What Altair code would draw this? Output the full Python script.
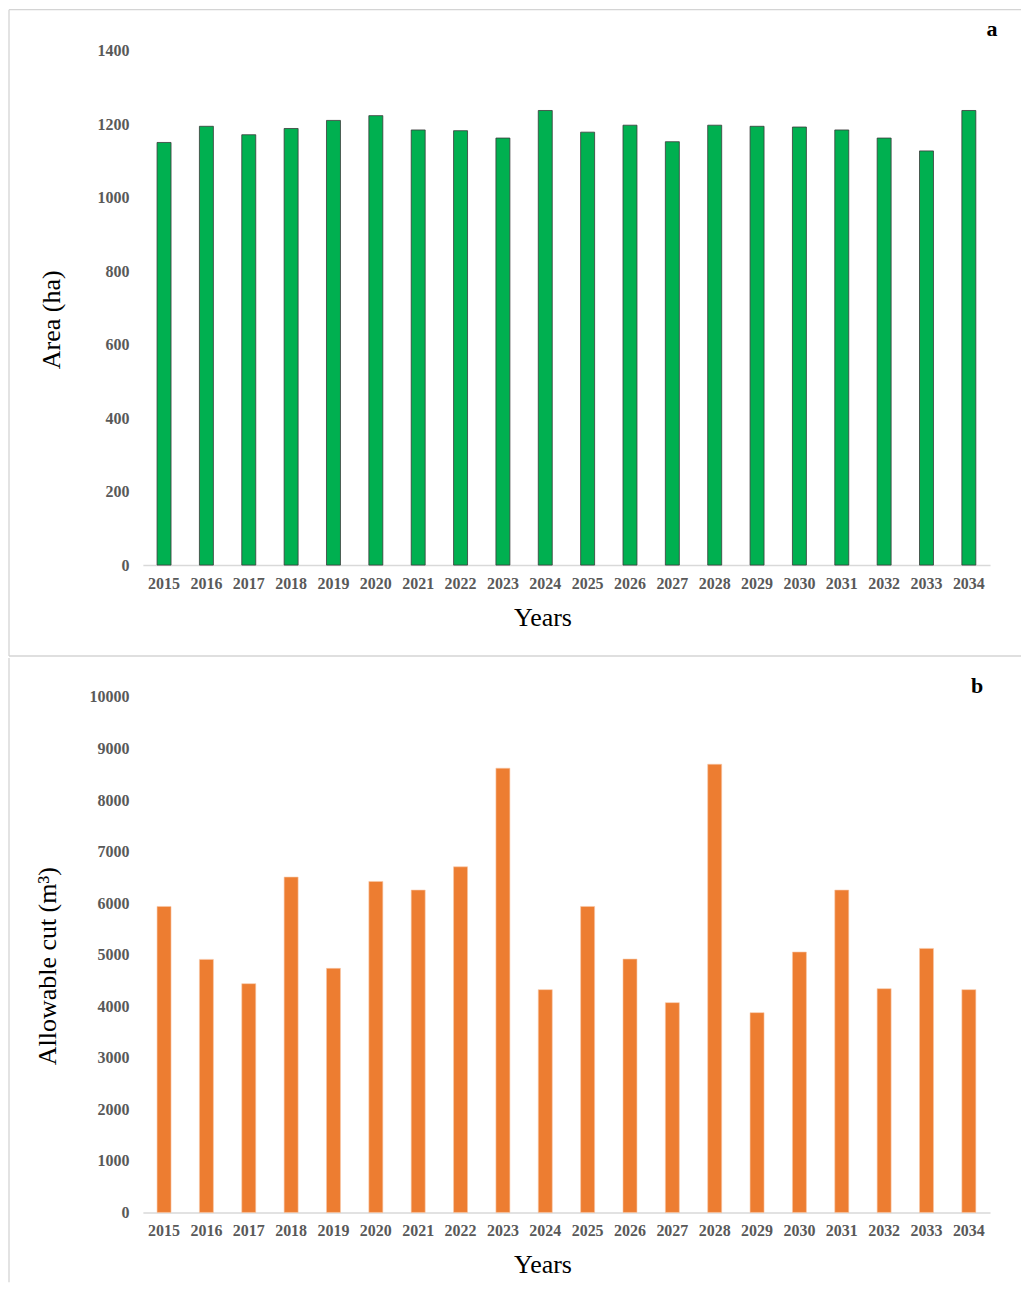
import altair as alt
import pandas as pd

years = [str(y) for y in range(2015, 2035)]
area_ha = [1150, 1194, 1171, 1188, 1210, 1223, 1184, 1182, 1162, 1237,
           1178, 1197, 1152, 1197, 1194, 1192, 1184, 1162, 1127, 1237]
allowable_cut = [5936, 4909, 4438, 6506, 4735, 6421, 6254, 6705, 8618, 4322,
                 5936, 4915, 4070, 8695, 3876, 5052, 6254, 4341, 5122, 4322]

area_ticks = [0, 200, 400, 600, 800, 1000, 1200, 1400]
cut_ticks = list(range(0, 10001, 1000))

FONT = "Liberation Serif"
W, H = 848, 515
H2 = 516
BORDER = "#d4d4d4"

df_a = pd.DataFrame({"Year": years, "Area": area_ha})
df_b = pd.DataFrame({"Year": years, "Cut": allowable_cut})
one = pd.DataFrame({"p": [0]})

def xaxis():
    return alt.Axis(title="Years", labelFont=FONT, labelFontSize=16, labelFontWeight="bold",
                    labelColor="#595959", labelAngle=0, labelPadding=10, ticks=False,
                    domainColor="#d9d9d9", domainWidth=1.5, titleFont=FONT, titleFontSize=26,
                    titleFontWeight="normal", titleColor="#000000", titlePadding=13,
                    titleX=400)

def yaxis(title, vals, tp):
    return alt.Axis(title=title, values=vals, format="d", labelFont=FONT, labelFontSize=16,
                    labelFontWeight="bold", labelColor="#595959", labelPadding=14,
                    ticks=False, domain=False, grid=False, titleFont=FONT, titleFontSize=26,
                    titleFontWeight="normal", titleColor="#000000", titlePadding=tp,
                    titleY=269)

def rule(x, y, x2=None, y2=None):
    enc = dict(x=alt.value(x), y=alt.value(y))
    if x2 is not None:
        enc["x2"] = alt.value(x2)
    if y2 is not None:
        enc["y2"] = alt.value(y2)
    return alt.Chart(one).mark_rule(color=BORDER, strokeWidth=1.3).encode(**enc)

xscale = alt.Scale(paddingInner=0.67, paddingOuter=0.335)

bars_a = alt.Chart(df_a).mark_bar(color="#00b050", stroke="#3a3a3a", strokeWidth=0.8).encode(
    x=alt.X("Year:N", scale=xscale, axis=xaxis(), sort=years),
    y=alt.Y("Area:Q", scale=alt.Scale(domain=[0, 1400], nice=False),
            axis=yaxis("Area (ha)", area_ticks, 32)),
)
label_a = alt.Chart(one).mark_text(text="a", font=FONT, fontSize=22, fontWeight="bold",
                                   color="#000000").encode(x=alt.value(850), y=alt.value(-22))
panel_a = alt.layer(
    rule(-134, -41, x2=W + 31),
    rule(-134, -41, y2=H + 91),
    rule(-134, H + 91, x2=W + 31),
    bars_a, label_a,
).properties(width=W, height=H)

bars_b = alt.Chart(df_b).mark_bar(color="#ed7d31", stroke="#f8c8a8", strokeWidth=0.6).encode(
    x=alt.X("Year:N", scale=xscale, axis=xaxis(), sort=years),
    y=alt.Y("Cut:Q", scale=alt.Scale(domain=[0, 10000], nice=False),
            axis=yaxis("Allowable cut (m³)", cut_ticks, 28)),
)
label_b = alt.Chart(one).mark_text(text="b", font=FONT, fontSize=22, fontWeight="bold",
                                   color="#000000").encode(x=alt.value(835), y=alt.value(-11))
panel_b = alt.layer(
    rule(-134, -39, y2=H2 + 70),
    bars_b, label_b,
).properties(width=W, height=H2)

chart = alt.vconcat(panel_a, panel_b, spacing=0).properties(padding=0).configure_view(stroke=None)

chart.save("out.html", embed_options={"renderer": "svg", "actions": False})
